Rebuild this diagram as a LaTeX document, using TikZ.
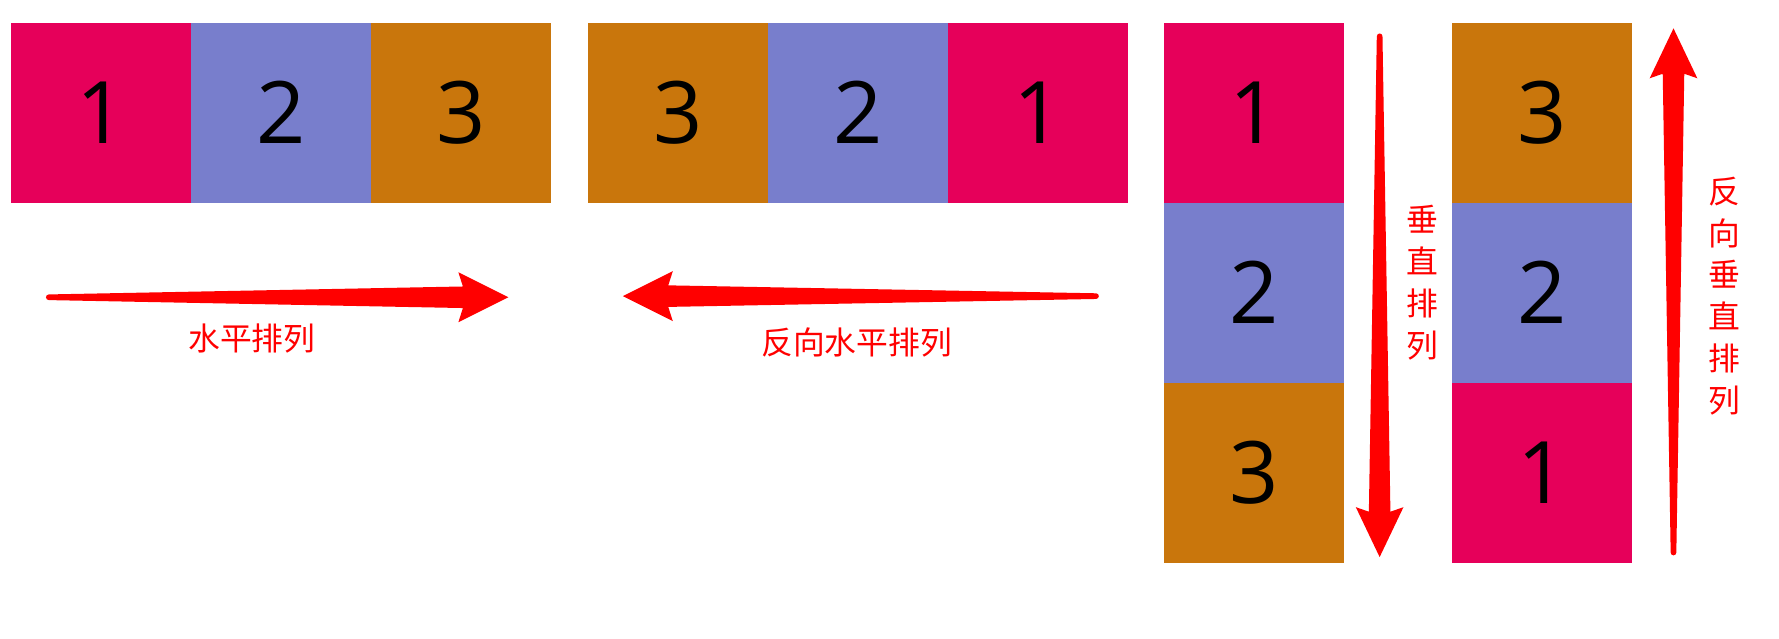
\documentclass[tikz,border=0pt]{standalone}
\usepackage{fontspec}
\setmainfont{Open Sans}
\newfontfamily\cjk{Noto Sans CJK SC}
\usetikzlibrary{positioning}

\definecolor{cellred}{RGB}{230,0,90}
\definecolor{cellblue}{RGB}{120,126,204}
\definecolor{cellorange}{RGB}{201,118,12}

\tikzset{every picture/.style={line width=0.75pt}}
\tikzset{
  cell/.style={minimum size=79.33pt,inner sep=0pt,outer sep=0pt,font=\fontsize{38}{40}\selectfont},
  dirlabel/.style={text=red,inner sep=0.75pt,align=center,font=\cjk\fontsize{14}{18.5}\selectfont}
}

\begin{document}
\begin{tikzpicture}[x=0.5pt,y=0.5pt,yscale=-1,xscale=1]
\useasboundingbox (0,0) rectangle (1568,563);

%Shape: Rectangle row, 1 2 3
\node [cell,fill=cellred,anchor=north west] (h1) at (10,20) {1};
\node [cell,fill=cellblue,right=0pt of h1] (h2) {2};
\node [cell,fill=cellorange,right=0pt of h2] (h3) {3};
%Shape: Rectangle row, 3 2 1
\node [cell,fill=cellorange,anchor=north west] (r3) at (518,20) {3};
\node [cell,fill=cellblue,right=0pt of r3] (r2) {2};
\node [cell,fill=cellred,right=0pt of r2] (r1) {1};
%Shape: Rectangle column, 1 2 3
\node [cell,fill=cellred,anchor=north west] (v1) at (1026,20) {1};
\node [cell,fill=cellblue,below=0pt of v1] (v2) {2};
\node [cell,fill=cellorange,below=0pt of v2] (v3) {3};
%Shape: Rectangle column, 3 2 1
\node [cell,fill=cellorange,anchor=north west] (u3) at (1280,20) {3};
\node [cell,fill=cellblue,below=0pt of u3] (u2) {2};
\node [cell,fill=cellred,below=0pt of u2] (u1) {1};

% arrow tails
\coordinate (hTail) at (43,262);
\coordinate (rTail) at (966,261);
\coordinate (vTail) at (1216,32);
\coordinate (uTail) at (1475,487);

%Straight Lines, tapered arrows
\fill [red,shift={(hTail)},rotate=0] (0,-2.5) -- (365,-9.5) -- (361,-22) -- (405,0) -- (361,22) -- (365,9.5) -- (0,2.5) arc (90:270:2.5) -- cycle;
\fill [red,shift={(rTail)},rotate=180] (0,-2.5) -- (377,-9.5) -- (373,-22) -- (417,0) -- (373,22) -- (377,9.5) -- (0,2.5) arc (90:270:2.5) -- cycle;
\fill [red,shift={(vTail)},rotate=90] (0,-2.5) -- (419,-9.5) -- (415,-21) -- (459,0) -- (415,21) -- (419,9.5) -- (0,2.5) arc (90:270:2.5) -- cycle;
\fill [red,shift={(uTail)},rotate=270] (0,-2.5) -- (422,-9.5) -- (418,-21) -- (462,0) -- (418,21) -- (422,9.5) -- (0,2.5) arc (90:270:2.5) -- cycle;

% Text Node
\node [dirlabel] (hText) at (222,298) {水平排列};
% Text Node
\node [dirlabel] (rText) at (755,302) {反向水平排列};
% Text Node
\node [dirlabel] (vText) at (1254,249) {垂\\直\\排\\列};
% Text Node
\node [dirlabel] (uText) at (1520,261) {反\\向\\垂\\直\\排\\列};

\end{tikzpicture}
\end{document}
